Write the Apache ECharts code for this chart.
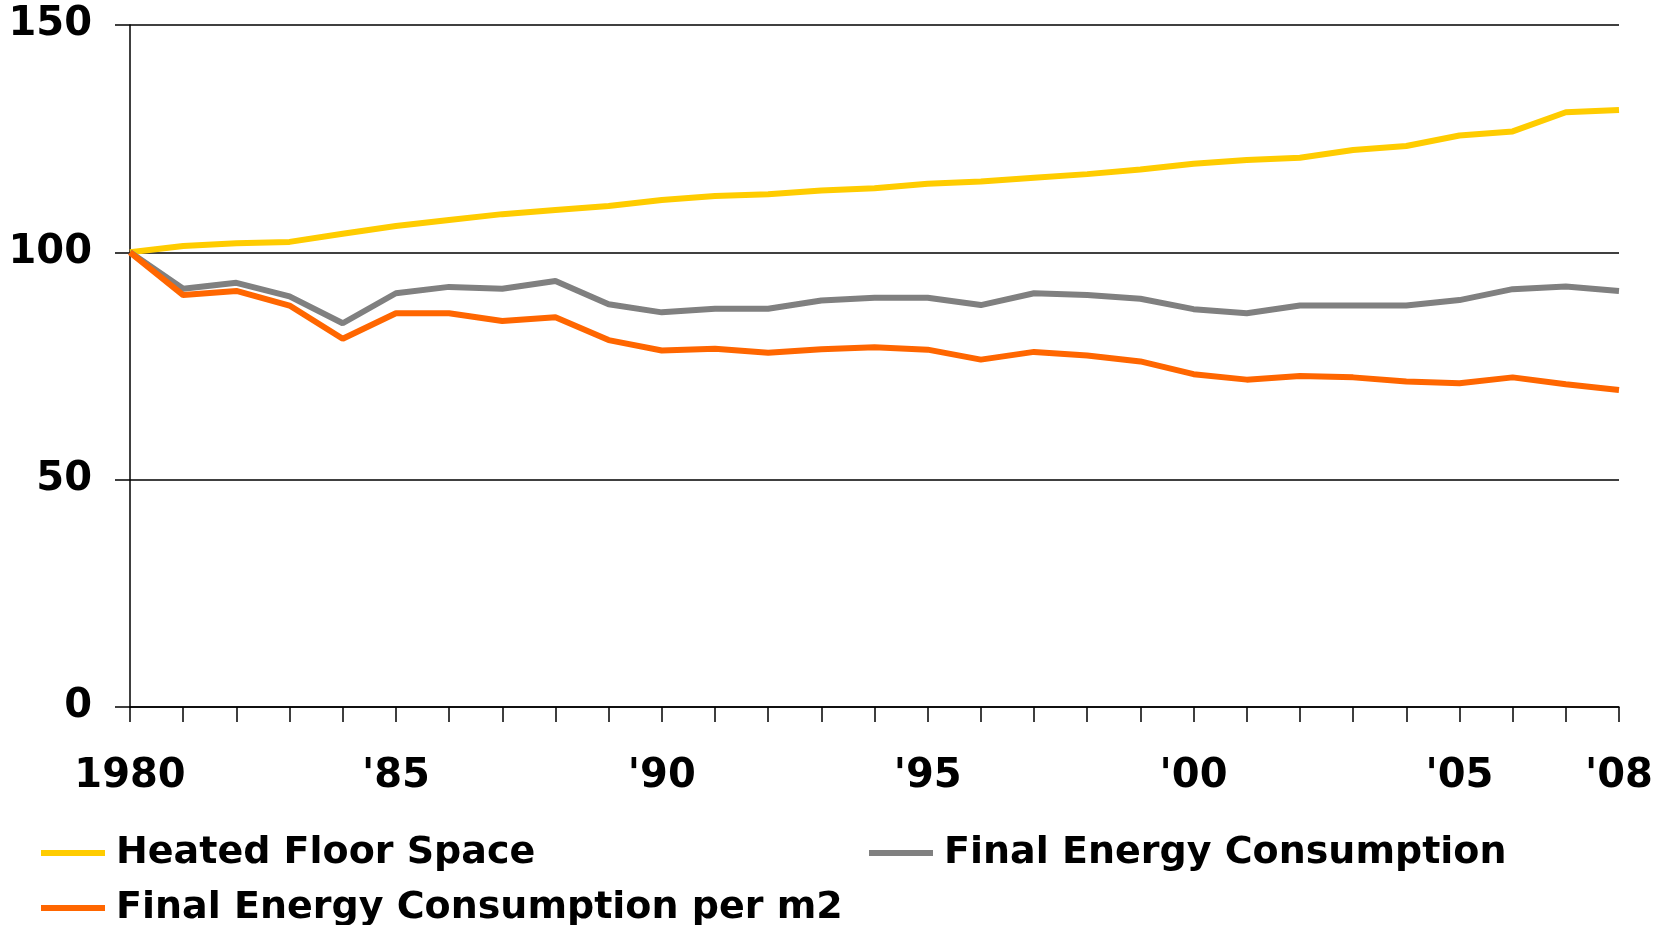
<!DOCTYPE html>
<html>
<head>
<meta charset="utf-8">
<script src="https://cdn.jsdelivr.net/npm/echarts@6/dist/echarts.min.js"></script>
<style>
html,body{margin:0;padding:0;background:#fff;}
#chart{width:1666px;height:925px;}
</style>
</head>
<body>
<div id="chart"></div>
<script>
const years = ['1980','1981','1982','1983','1984','1985','1986','1987','1988','1989','1990','1991','1992','1993','1994','1995','1996','1997','1998','1999','2000','2001','2002','2003','2004','2005','2006','2007','2008'];
const tickLabels = {'1980':'1980','1985':"'85",'1990':"'90",'1995':"'95",'2000':"'00",'2005':"'05",'2008':"'08"};
const seriesNames = ['Heated Floor Space','Final Energy Consumption','Final Energy Consumption per m2'];
const heatedFloorSpace = [100, 101.4, 102.0, 102.3, 104.1, 105.8, 107.1, 108.4, 109.3, 110.2, 111.5, 112.4, 112.8, 113.6, 114.1, 115.1, 115.6, 116.4, 117.2, 118.2, 119.5, 120.3, 120.8, 122.5, 123.4, 125.7, 126.6, 130.8, 131.3];
const finalEnergy = [100, 92.0, 93.3, 90.3, 84.4, 91.0, 92.4, 92.0, 93.7, 88.6, 86.8, 87.6, 87.6, 89.4, 90.0, 90.0, 88.4, 91.0, 90.6, 89.8, 87.5, 86.6, 88.3, 88.3, 88.3, 89.5, 91.9, 92.5, 91.5];
const finalEnergyPerM2 = [100, 90.6, 91.5, 88.3, 81.0, 86.6, 86.6, 84.9, 85.7, 80.7, 78.4, 78.8, 77.9, 78.7, 79.1, 78.6, 76.4, 78.1, 77.3, 76.0, 73.2, 72.0, 72.8, 72.5, 71.6, 71.2, 72.5, 71.0, 69.7];
const colors = ['#FFCC00', '#808080', '#FF6600'];

const font = 'DejaVu Sans, Verdana, sans-serif';
const chart = echarts.init(document.getElementById('chart'), null, {renderer: 'canvas'});
const legendText = {fontFamily: font, fontWeight: 'bold', fontSize: 38, color: '#000', lineHeight: 36, padding: [0, 0, 0, 6]};
function legendAt(name, left, top) {
  return {
    data: [name], orient: 'horizontal', left: left, top: top,
    icon: 'rect', itemWidth: 64, itemHeight: 6,
    textStyle: legendText, padding: 0
  };
}
chart.setOption({
  animation: false,
  backgroundColor: '#fff',
  grid: {left: 130, right: 47, top: 25, bottom: 218, containLabel: false},
  legend: [
    legendAt(seriesNames[0], 41, 834),
    legendAt(seriesNames[1], 869, 834),
    legendAt(seriesNames[2], 41, 889)
  ],
  xAxis: {
    type: 'category',
    data: years,
    boundaryGap: false,
    axisLine: {lineStyle: {color: '#000', width: 1.5}},
    axisTick: {show: true, interval: 0, length: 15, lineStyle: {color: '#000', width: 1.5}},
    axisLabel: {
      interval: function (i, v) { return tickLabels[v] !== undefined; },
      formatter: function (v) { return tickLabels[v] || ''; },
      fontFamily: font, fontWeight: 'bold', fontSize: 40, color: '#000', margin: 50
    },
    splitLine: {show: false}
  },
  yAxis: {
    type: 'value',
    min: 0, max: 150, interval: 50,
    axisLine: {show: true, lineStyle: {color: '#000', width: 1.5}},
    axisTick: {show: true, length: 15, lineStyle: {color: '#000', width: 1.5}},
    axisLabel: {fontFamily: font, fontWeight: 'bold', fontSize: 40, color: '#000', margin: 38, padding: [10, 0, 0, 0]},
    splitLine: {show: true, lineStyle: {color: '#000', width: 1.5}}
  },
  series: [
    {name: seriesNames[0], type: 'line', data: heatedFloorSpace, showSymbol: false, symbol: 'none', lineStyle: {width: 6, color: colors[0]}, itemStyle: {color: colors[0]}, z: 3},
    {name: seriesNames[1], type: 'line', data: finalEnergy, showSymbol: false, symbol: 'none', lineStyle: {width: 6, color: colors[1]}, itemStyle: {color: colors[1]}, z: 3},
    {name: seriesNames[2], type: 'line', data: finalEnergyPerM2, showSymbol: false, symbol: 'none', lineStyle: {width: 6, color: colors[2]}, itemStyle: {color: colors[2]}, z: 4}
  ]
});
</script>
</body>
</html>
